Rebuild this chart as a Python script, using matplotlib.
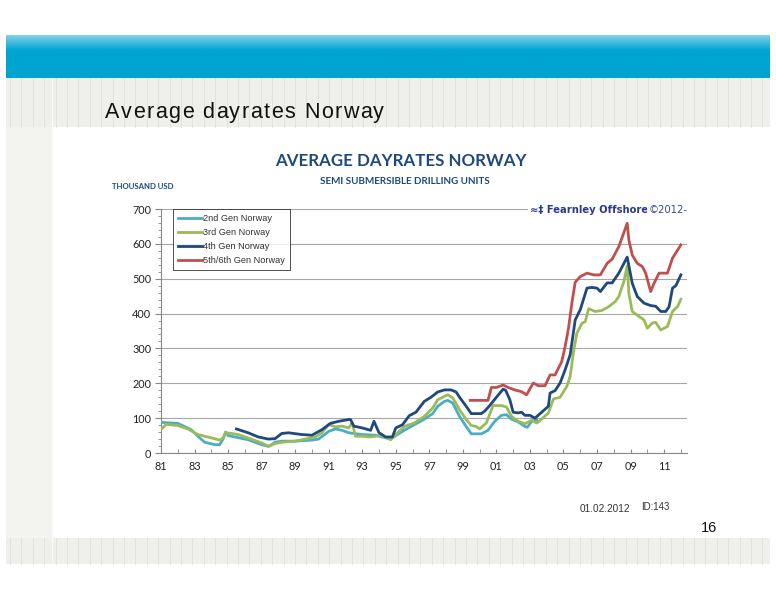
import numpy as np
import matplotlib
matplotlib.use("Agg")
import matplotlib.pyplot as plt
from matplotlib.patches import Rectangle

# ---------------- data ----------------
gen2_years = [1981.0, 1982.0, 1982.8, 1983.2, 1983.6, 1984.2, 1984.5, 1984.7, 1984.85, 1985.0,
              1985.4, 1985.8, 1986.2, 1987.0, 1987.4, 1987.6, 1987.8, 1988.2, 1989.0, 1990.0,
              1990.4, 1991.0, 1991.4, 1991.8, 1992.2, 1993.0, 1993.8, 1994.2, 1994.7, 1995.0,
              1995.5, 1996.1, 1996.7, 1997.2, 1997.5, 1997.9, 1998.1, 1998.4, 1998.8, 1999.2,
              1999.5, 2000.1, 2000.5, 2000.9, 2001.3, 2001.6, 2001.9, 2002.3, 2002.7, 2002.85,
              2003.1, 2003.4]
gen2_vals = [88, 85, 67, 48, 31, 24, 24, 40, 60, 50,
             46, 42, 38, 24, 19, 24, 31, 34, 34, 37,
             40, 62, 69, 65, 58, 53, 51, 46, 40, 50,
             65, 81, 97, 113, 134, 148, 151, 143, 105, 76,
             55, 55, 65, 91, 108, 110, 97, 89, 76, 74,
             91, 95]

gen3_years = [1981.0, 1981.3, 1982.0, 1982.6, 1983.2, 1983.8, 1984.5, 1984.7, 1984.85, 1985.2,
              1985.6, 1986.2, 1987.0, 1987.4, 1987.8, 1988.2, 1989.0, 1989.6, 1990.2, 1990.6,
              1991.0, 1991.4, 1991.8, 1992.2, 1992.4, 1992.6, 1993.0, 1993.4, 1994.2, 1994.7,
              1995.0, 1995.5, 1996.1, 1996.7, 1997.2, 1997.5, 1998.1, 1998.4, 1998.8, 1999.2,
              1999.5, 1999.8, 2000.0, 2000.4, 2000.8, 2001.3, 2001.6, 2001.9, 2002.3, 2002.7,
              2003.1, 2003.4, 2003.7, 2004.1, 2004.4, 2004.8, 2005.2, 2005.4, 2005.6, 2005.8,
              2006.1, 2006.3, 2006.5, 2006.9, 2007.3, 2007.7, 2008.1, 2008.3, 2008.6, 2008.8,
              2008.9, 2009.1, 2009.5, 2009.8, 2010.0, 2010.3, 2010.5, 2010.8, 2011.2, 2011.5,
              2011.8, 2012.0]
gen3_vals = [67, 82, 79, 69, 53, 46, 37, 43, 58, 56,
             53, 43, 29, 19, 27, 31, 34, 40, 46, 58,
             82, 75, 77, 72, 87, 48, 48, 46, 50, 38,
             53, 76, 86, 105, 129, 153, 167, 158, 124, 96,
             79, 76, 69, 86, 136, 136, 132, 105, 91, 84,
             94, 86, 97, 115, 155, 160, 191, 220, 291, 344,
             372, 377, 414, 406, 409, 420, 435, 449, 492, 537,
             458, 406, 392, 382, 358, 373, 375, 353, 363, 406,
             420, 441]

gen4_years = [1985.5, 1986.2, 1986.8, 1987.4, 1987.8, 1988.2, 1988.6, 1989.4, 1990.0, 1990.6,
              1991.1, 1991.6, 1992.2, 1992.3, 1992.5, 1993.0, 1993.5, 1993.7, 1994.0, 1994.4,
              1994.8, 1995.0, 1995.4, 1995.8, 1996.2, 1996.7, 1997.1, 1997.5, 1997.9, 1998.3,
              1998.6, 1998.8, 1999.2, 1999.5, 2000.1, 2000.3, 2000.6, 2001.0, 2001.4, 2001.55,
              2001.8, 2002.0, 2002.3, 2002.5, 2002.7, 2003.0, 2003.3, 2003.7, 2004.1, 2004.2,
              2004.5, 2004.8, 2005.1, 2005.4, 2005.7, 2006.0, 2006.4, 2006.7, 2007.0, 2007.2,
              2007.6, 2007.9, 2008.3, 2008.8, 2009.1, 2009.4, 2009.8, 2010.2, 2010.5, 2010.8,
              2011.1, 2011.3, 2011.5, 2011.7, 2012.0]
gen4_vals = [69, 58, 46, 40, 41, 56, 58, 53, 51, 67,
             85, 91, 96, 96, 77, 72, 65, 91, 58, 46,
             46, 72, 81, 107, 117, 148, 160, 175, 181, 181,
             175, 160, 134, 113, 113, 120, 136, 160, 183, 180,
             153, 117, 115, 117, 108, 108, 100, 117, 134, 172,
             179, 201, 239, 282, 382, 411, 473, 475, 473, 463,
             488, 488, 516, 562, 487, 449, 430, 423, 421, 406,
             406, 420, 473, 480, 511]

gen5_years = [1999.44, 2000.5, 2000.7, 2001.0, 2001.4, 2001.7, 2002.1, 2002.5, 2002.8, 2003.2,
              2003.5, 2003.9, 2004.2, 2004.5, 2004.9, 2005.1, 2005.3, 2005.5, 2005.7, 2006.0,
              2006.4, 2006.8, 2007.2, 2007.6, 2007.9, 2008.3, 2008.8, 2008.9, 2009.1, 2009.4,
              2009.7, 2009.9, 2010.2, 2010.4, 2010.7, 2011.2, 2011.5, 2012.0]
gen5_vals = [151, 151, 188, 188, 195, 188, 181, 176, 167, 201,
             193, 193, 224, 224, 263, 306, 358, 430, 490, 506,
             516, 511, 511, 544, 556, 592, 659, 611, 568, 544,
             535, 516, 463, 487, 516, 516, 559, 597]

series_names = ["2nd Gen Norway", "3rd Gen Norway", "4th Gen Norway", "5th/6th Gen Norway"]
series_colors = ["#4BACC6", "#9BBB59", "#1F497D", "#C0504D"]
x_tick_years = list(range(1981, 2012, 2))
x_tick_labels = ["%02d" % (y % 100) for y in x_tick_years]
y_ticks = [0, 100, 200, 300, 400, 500, 600, 700]

# ---------------- figure ----------------
W, H = 776, 600
fig = plt.figure(figsize=(W / 100, H / 100), dpi=100)
fig.patch.set_facecolor("white")

# background slide decoration (pixel coordinates)
bg = fig.add_axes([0, 0, 1, 1], zorder=-5)
bg.set_xlim(0, W)
bg.set_ylim(H, 0)
bg.axis("off")

grad = np.linspace(0, 1, 60).reshape(-1, 1)
top_c = np.array([0x80, 0xD2, 0xEA]) / 255
mid_c = np.array([0x00, 0xA4, 0xD0]) / 255
t = np.clip(grad / 0.35, 0, 1)
img = (top_c * (1 - t) + mid_c * t).reshape(60, 1, 3)
bg.imshow(img, extent=(6, 770, 78, 35), aspect="auto", interpolation="bilinear", zorder=1)

band_col = "#EFEFEB"
stripe_col = "#E2E2DE"
bg.add_patch(Rectangle((6, 78), 764, 49, facecolor=band_col, edgecolor="none", zorder=1))
bg.add_patch(Rectangle((6, 538), 764, 26, facecolor=band_col, edgecolor="none", zorder=1))
bg.add_patch(Rectangle((6, 127), 46, 411, facecolor="#F3F3EF", edgecolor="none", zorder=1))
for xs in np.arange(10, 770, 11.4):
    bg.plot([xs, xs], [78, 127], color=stripe_col, lw=0.7, zorder=2)
    bg.plot([xs, xs], [538, 564], color=stripe_col, lw=0.7, zorder=2)
bg.plot([52, 52], [78, 564], color="#FAFAF8", lw=0.8, zorder=3)

# slide title with letter spacing
renderer = fig.canvas.get_renderer()
title_str = "Average dayrates Norway"
x_px = 105.0
space_px = 1.45
for ch in title_str:
    tx = fig.text(x_px / W, 1 - 118 / H, ch, fontsize=15.5, family="Liberation Sans",
                  color="#111111", ha="left", va="baseline")
    if ch == " ":
        w = fig.text(0, 0, "a a", fontsize=15.5, family="Liberation Sans")
        w2 = fig.text(0, 0, "aa", fontsize=15.5, family="Liberation Sans")
        adv = w.get_window_extent(renderer).width - w2.get_window_extent(renderer).width
        w.remove(); w2.remove()
    else:
        adv = tx.get_window_extent(renderer).width
    x_px += adv + space_px

# chart titles
navy = "#1F497D"
fig.text(401 / W, 1 - 161 / H, "AVERAGE DAYRATES NORWAY", fontsize=12.2, fontweight="bold",
         family="Lato", color=navy, ha="center", va="center")
fig.text(405 / W, 1 - 181 / H, "SEMI SUBMERSIBLE DRILLING UNITS", fontsize=7.1, fontweight="bold",
         family="Lato", color=navy, ha="center", va="center")
fig.text(112 / W, 1 - 186 / H, "THOUSAND USD", fontsize=5.6, fontweight="bold",
         family="Lato", color=navy, ha="left", va="center")

# ---------------- chart axes ----------------
ax_l, ax_r, ax_t, ax_b = 161, 687, 209, 453
ax = fig.add_axes([ax_l / W, 1 - ax_b / H, (ax_r - ax_l) / W, (ax_b - ax_t) / H])
ax.set_facecolor("none")
ax.set_xlim(1981, 1981 + (ax_r - ax_l) / 16.77)
ax.set_ylim(0, 700)

data = [(gen2_years, gen2_vals), (gen3_years, gen3_vals),
        (gen4_years, gen4_vals), (gen5_years, gen5_vals)]
for (xs, ys), name, col in zip(data, series_names, series_colors):
    ax.plot(xs, ys, color=col, lw=2.0, label=name, solid_joinstyle="round", zorder=3)

for sp in ["top", "right"]:
    ax.spines[sp].set_visible(False)
ax.spines["left"].set_color("#888888")
ax.spines["bottom"].set_color("#888888")
ax.spines["left"].set_linewidth(0.8)
ax.spines["bottom"].set_linewidth(0.8)

ax.set_yticks(y_ticks)
ax.set_yticks(np.arange(0, 701, 20), minor=True)
ax.yaxis.grid(True, color="#A6A6A6", lw=0.8)
ax.set_axisbelow(True)
ax.set_xticks(x_tick_years)
ax.set_xticklabels(x_tick_labels)
ax.set_xticks(range(1981, 2013), minor=True)
ax.tick_params(axis="y", which="major", direction="out", length=4, color="#888888",
               labelsize=7.8, labelcolor="#222222", pad=3)
ax.tick_params(axis="y", which="minor", direction="out", length=2, color="#888888")
ax.tick_params(axis="x", which="both", direction="in", length=3, color="#888888",
               labelsize=7.8, labelcolor="#222222", pad=6)
for lab in ax.get_xticklabels() + ax.get_yticklabels():
    lab.set_family("Lato")

leg = ax.legend(loc="upper left", bbox_to_anchor=((173 - ax_l) / (ax_r - ax_l), 1.0),
                frameon=True, fancybox=False, edgecolor="#222222", fontsize=6.6,
                handlelength=2.6, handletextpad=0.1, borderpad=0.55, labelspacing=0.55,
                borderaxespad=0)
leg.get_frame().set_linewidth(0.7)
for txt in leg.get_texts():
    txt.set_color("#333333")
    txt.set_family("Liberation Sans")

# logo text
fig.text(648 / W, 1 - 210 / H, "\u2248\u2021 Fearnley Offshore", fontsize=7.2, fontweight="bold",
         family=["Liberation Sans Narrow", "DejaVu Sans"], color="#2B3990", ha="right", va="center",
         bbox=dict(facecolor="white", edgecolor="none", pad=1.5))
fig.text(649 / W, 1 - 210 / H, "\u00a92012-", fontsize=7.2,
         family="DejaVu Sans", color="#3A4A9A", ha="left", va="center",
         bbox=dict(facecolor="white", edgecolor="none", pad=1.5))

# footer texts
fig.text(605 / W, 1 - 509 / H, "01.02.2012", fontsize=7.2, family="Liberation Sans",
         color="#333333", ha="center", va="center")
fig.text(655 / W, 1 - 507 / H, "ID:143", fontsize=7.0, family="Liberation Sans",
         color="#333333", ha="center", va="center")
fig.text(709 / W, 1 - 528 / H, "16", fontsize=10.5, family="Liberation Sans",
         color="#111111", ha="center", va="center")

fig.savefig("out.png", dpi=100, facecolor="white")
